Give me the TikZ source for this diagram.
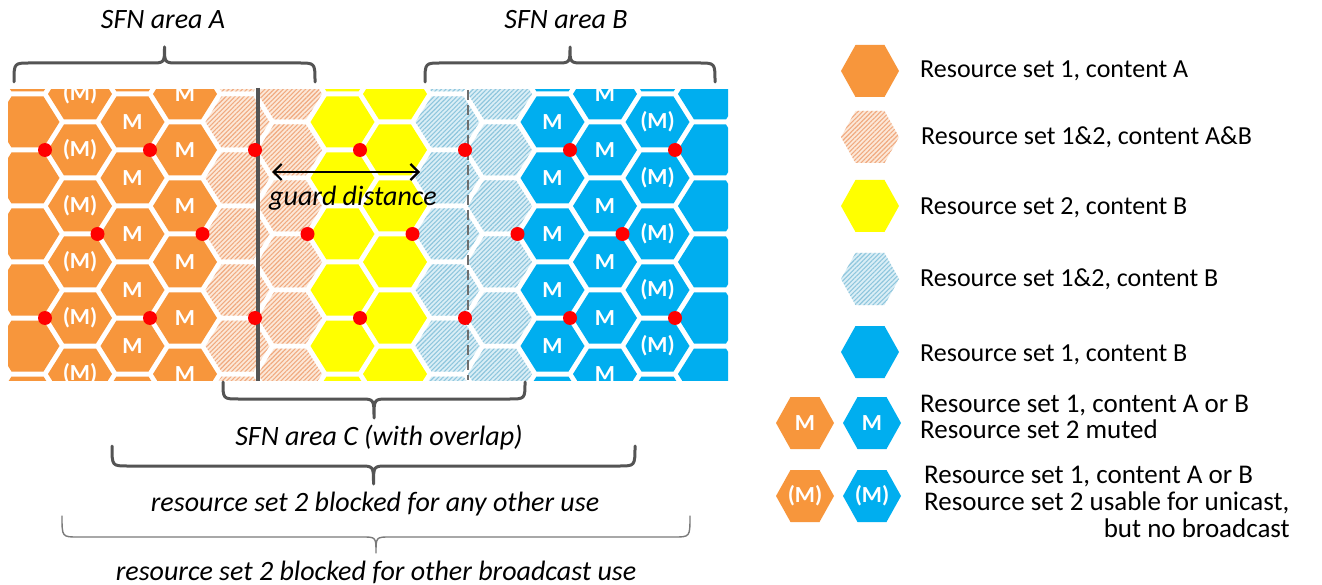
\documentclass[tikz,border=0pt]{standalone}
\usepackage{fontspec}
\setmainfont{Carlito}
\usetikzlibrary{patterns.meta,arrows.meta}
\definecolor{orA}{HTML}{F7963C}
\definecolor{blB}{HTML}{00AEEF}
\definecolor{yel}{HTML}{FFFF00}
\definecolor{orL}{HTML}{FCE8D8}
\definecolor{orH}{HTML}{F0AA80}
\definecolor{blL}{HTML}{DAEEF6}
\definecolor{blH}{HTML}{8EC6DD}
\definecolor{dotred}{HTML}{FF0000}
\definecolor{brc}{HTML}{545454}
\definecolor{brl}{HTML}{7A7A7A}
\newcommand{\hexfill}[5]{% style, cx, cy, R, h
  \fill[#1] (#2-#4,#3) -- (#2-#4/2,#3-#5) -- (#2+#4/2,#3-#5) -- (#2+#4,#3)
    -- (#2+#4/2,#3+#5) -- (#2-#4/2,#3+#5) -- cycle;}
\newcommand{\hbr}[6]{% x1, x2, yend, ybar, ytip, style
  \draw[#6] (#1,#3) .. controls (#1,#4) .. (#1+16,#4)
    -- ({(#1+#2)/2-14},#4) .. controls ({(#1+#2)/2},#4) .. ({(#1+#2)/2},#5)
    .. controls ({(#1+#2)/2},#4) .. ({(#1+#2)/2+14},#4)
    -- (#2-16,#4) .. controls (#2,#4) .. (#2,#3);}
\tikzset{
  hA/.style={fill=orA},
  hB/.style={fill=blB},
  hY/.style={fill=yel},
  hAh/.style={fill=orL, postaction={pattern={Lines[angle=45,distance=3.2pt,line width=1.1pt]}, pattern color=orH}},
  hBh/.style={fill=blL, postaction={pattern={Lines[angle=45,distance=3.2pt,line width=1.1pt]}, pattern color=blH}},
  mlab/.style={text=white, font=\bfseries\fontsize{23}{23}\selectfont, inner sep=0pt},
  legtxt/.style={anchor=base west, inner sep=0pt, font=\fontsize{26}{31}\selectfont},
  legtxtb/.style={anchor=base west, inner sep=0pt, font=\fontsize{27}{27}\selectfont},
  itl/.style={anchor=base, inner sep=0pt, font=\itshape\fontsize{28}{33}\selectfont},
  bracedark/.style={draw=brc, line width=3pt, line cap=round, line join=round},
  bracelight/.style={draw=brl, line width=1.4pt, line cap=round, line join=round},
  reddot/.style={fill=dotred},
}
\begin{document}
\begin{tikzpicture}[x=1pt,y=-1pt]
\useasboundingbox (0,0) rectangle (1322,585);
\fill[white] (0,0) rectangle (1322,585);

% ---------- hexagon field ----------
\begin{scope}
\clip (8,90) rectangle (728,380);
\foreach \c/\sty/\lab in {0/hA/0,1/hA/2,2/hA/1,3/hA/1,4/hAh/0,5/hAh/0,6/hY/0,7/hY/0,8/hBh/0,9/hBh/0,10/hB/1,11/hB/1,12/hB/2,13/hB/0}{
  \pgfmathsetmacro\cx{27.5+52.5*\c}
  \pgfmathsetmacro\off{mod(\c,2)==0 ? 66 : 38}
  \foreach \k in {0,...,7}{
    \pgfmathsetmacro\cy{\off+56*\k}
    \pgfmathtruncatemacro\vis{(\cy>60)&&(\cy<390) ? 1 : 0}
    \hexfill{\sty}{\cx}{\cy}{32}{25.5}
    \ifnum\vis=1
      \ifnum\lab=1 \node[mlab] (m-\c-\k) at (\cx,\cy) {M};\fi
      \ifnum\lab=2 \node[mlab] (m-\c-\k) at (\cx,\cy) {(M)};\fi
    \fi
  }
}
\end{scope}

% borders of area C
\coordinate (sT) at (258,88);
\coordinate (sB) at (258,381);
\coordinate (dT) at (468,90);
\coordinate (dB) at (468,380);
\draw[brc, line width=3.4pt] (sT) -- (sB);
\draw[brc!85, line width=2.8pt, dash pattern=on 10pt off 5pt] (dT) -- (dB);

% red dots
\foreach \c in {1,3,...,13}{
  \pgfmathsetmacro\dx{27.5+52.5*\c-35}
  \fill[reddot] (\dx,150) circle (7);
  \fill[reddot] (\dx,318) circle (7);
}
\foreach \c in {2,4,...,12}{
  \pgfmathsetmacro\dx{27.5+52.5*\c-35}
  \fill[reddot] (\dx,234) circle (7);
}

% guard distance
\coordinate (gl) at (272,172);
\coordinate (gr) at (420,172);
\draw[black, line width=2.2pt, {Straight Barb[length=8pt,width=16pt]}-{Straight Barb[length=8pt,width=16pt]}] (gl) -- (gr);
\node[itl] (guard) at (353,206) {guard distance};

% braces and labels
\hbr{14}{315}{82}{63}{47}{bracedark}
\hbr{425}{715}{82}{63}{47}{bracedark}
\node[itl] (sfnA) at (163,29) {SFN area A};
\node[itl] (sfnB) at (566,29) {SFN area B};

\hbr{223}{525}{382}{399}{418}{bracedark}
\node[itl] (sfnC) at (379,445) {SFN area C (with overlap)};

\hbr{112}{635}{446}{466}{484}{bracedark}
\node[itl] (blk1) at (375,511) {resource set 2 blocked for any other use};

\hbr{62}{690}{516}{537}{553}{bracelight}
\node[itl] (blk2) at (376,580) {resource set 2 blocked for other broadcast use};

% ---------- legend ----------
\hexfill{hA}{870}{71}{29}{26}
\hexfill{hAh}{870}{137}{29}{26}
\hexfill{hY}{870}{206}{29}{26}
\hexfill{hBh}{870}{279}{29}{26}
\hexfill{hB}{870}{352}{29}{26}
\hexfill{hA}{805}{423}{29}{26}
\hexfill{hB}{872}{423}{29}{26}
\hexfill{hA}{805}{496}{29}{26}
\hexfill{hB}{872}{496}{29}{26}
\node[mlab] (lm1) at (805,423) {M};
\node[mlab] (lm2) at (872,423) {M};
\node[mlab] (lm3) at (805,496) {(M)};
\node[mlab] (lm4) at (872,496) {(M)};

\node[legtxt] (l1) at (920,78) {Resource set 1, content A};
\node[legtxt] (l2) at (921,145) {Resource set 1\&2, content A\&B};
\node[legtxt] (l3) at (920,215) {Resource set 2, content B};
\node[legtxt] (l4) at (920,287) {Resource set 1\&2, content B};
\node[legtxt] (l5) at (920,361) {Resource set 1, content B};
\node[legtxtb] (l6a) at (920,412) {Resource set 1, content A or B};
\node[legtxtb] (l6b) at (920,438) {Resource set 2 muted};
\node[legtxtb] (l7a) at (924,483) {Resource set 1, content A or B};
\node[legtxtb] (l7b) at (924,510) {Resource set 2 usable for unicast,};
\node[legtxtb, anchor=base east] (l7c) at (1290,537) {but no broadcast};
\end{tikzpicture}
\end{document}
